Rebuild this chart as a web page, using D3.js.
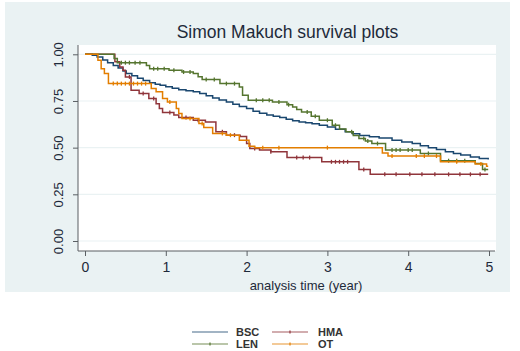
<!DOCTYPE html>
<html>
<head>
<meta charset="utf-8">
<script src="https://cdn.jsdelivr.net/npm/d3@7"></script>
<style>
  body { margin: 0; background: #fff; }
  svg { display: block; font-family: "Liberation Sans", Arial, sans-serif; }
</style>
</head>
<body>
<svg width="520" height="351"></svg>
<script>
// survival estimates: [time (years), survival]
const bsc = [[0,1],[0.09,0.995],[0.15,0.985],[0.22,0.97],[0.28,0.955],[0.35,0.94],[0.41,0.927],[0.47,0.91],
  [0.51,0.897],[0.58,0.885],[0.65,0.872],[0.72,0.86],[0.8,0.848],[0.87,0.84],[0.93,0.834],[1.0,0.826],
  [1.08,0.818],[1.16,0.81],[1.25,0.805],[1.34,0.8],[1.42,0.79],[1.5,0.778],[1.58,0.766],[1.66,0.755],
  [1.75,0.745],[1.83,0.733],[1.91,0.72],[2.0,0.71],[2.08,0.695],[2.16,0.684],[2.25,0.675],[2.33,0.668],
  [2.41,0.662],[2.49,0.652],[2.57,0.644],[2.65,0.638],[2.73,0.633],[2.81,0.628],[2.9,0.62],[3.0,0.61],
  [3.1,0.598],[3.22,0.585],[3.31,0.574],[3.4,0.565],[3.52,0.558],[3.64,0.552],[3.8,0.54],[3.92,0.53],
  [4.05,0.522],[4.15,0.51],[4.25,0.5],[4.35,0.49],[4.46,0.478],[4.56,0.468],[4.65,0.46],[4.77,0.45],
  [4.88,0.442],[4.99,0.436]];
const len = [[0,1],[0.36,0.977],[0.4,0.955],[0.76,0.94],[0.8,0.923],[1.04,0.914],[1.2,0.905],[1.34,0.897],
  [1.4,0.88],[1.45,0.865],[1.67,0.843],[1.91,0.825],[1.95,0.78],[2.02,0.754],[2.32,0.745],[2.5,0.73],
  [2.57,0.718],[2.62,0.705],[2.68,0.691],[2.8,0.668],[2.9,0.647],[3.06,0.62],[3.15,0.6],[3.23,0.585],
  [3.32,0.565],[3.39,0.549],[3.47,0.535],[3.55,0.522],[3.72,0.487],[4.15,0.469],[4.4,0.43],[4.83,0.415],
  [4.92,0.383],[4.99,0.383]];
const hma = [[0,1],[0.37,0.96],[0.43,0.932],[0.47,0.914],[0.5,0.879],[0.57,0.807],[0.67,0.79],[0.79,0.763],
  [0.88,0.735],[0.92,0.71],[0.96,0.688],[1.1,0.675],[1.16,0.661],[1.34,0.647],[1.49,0.638],[1.62,0.585],
  [1.75,0.567],[1.92,0.56],[2.0,0.522],[2.04,0.496],[2.16,0.487],[2.3,0.478],[2.5,0.447],[2.93,0.424],
  [3.39,0.383],[3.53,0.357],[4.99,0.357]];
const ot = [[0,1],[0.16,0.968],[0.2,0.923],[0.24,0.897],[0.29,0.843],[0.82,0.817],[0.88,0.8],[0.96,0.763],
  [1.02,0.745],[1.13,0.71],[1.16,0.683],[1.2,0.656],[1.41,0.63],[1.47,0.608],[1.58,0.576],[1.75,0.567],
  [1.91,0.54],[2.03,0.508],[2.1,0.5],[3.68,0.472],[3.75,0.455],[4.4,0.424],[4.83,0.412],[4.97,0.4],[4.99,0.4]];

// censoring times
const lenCens = [0.45,0.5,0.55,0.62,0.68,0.85,0.9,0.98,1.1,1.22,1.3,1.5,1.6,1.75,1.85,2.12,2.2,2.28,2.4,
  2.52,2.75,2.85,3.0,3.1,3.3,3.45,3.5,3.62,3.8,3.85,3.9,4.0,4.05,4.25,4.5,4.6,4.7,4.95];
const hmaCens = [0.55,0.72,0.85,1.05,1.25,1.4,1.7,1.85,2.1,2.3,2.62,2.7,2.78,3.05,3.1,3.15,3.2,3.25,3.45,
  3.71,3.85,4.02,4.17,4.33,4.5,4.64,4.77,4.89];
const otCens = [0.35,0.4,0.45,0.5,0.55,0.6,0.65,0.7,0.75,1.05,1.3,1.45,1.7,1.8,2.2,2.4,3.0,3.8,4.1,4.2,
  4.35,4.6,4.9];

const xTicks = [0, 1, 2, 3, 4, 5];
const yTicks = [0, 0.25, 0.5, 0.75, 1];

const series = [
  { name: "BSC", data: bsc, cens: [], color: "#1a476f" },
  { name: "HMA", data: hma, cens: hmaCens, color: "#90353b" },
  { name: "LEN", data: len, cens: lenCens, color: "#55752f" },
  { name: "OT", data: ot, cens: otCens, color: "#e37e00" }
];

const svg = d3.select("svg");

// graph region
svg.append("rect").attr("x", 5).attr("y", 2).attr("width", 505).attr("height", 290).attr("fill", "#eaf2f3");
svg.append("rect").attr("x", 78).attr("y", 45).attr("width", 418).attr("height", 206).attr("fill", "#fff");

const x = d3.scaleLinear().domain([0, 5]).range([85, 489]);
const y = d3.scaleLinear().domain([0, 1]).range([241, 54.3]);

// grid
svg.append("g").selectAll("line").data(yTicks).enter().append("line")
  .attr("x1", 78).attr("x2", 496)
  .attr("y1", d => y(d)).attr("y2", d => y(d))
  .attr("stroke", "#eaf2f3").attr("stroke-width", 1.2);

// axes
const xAxis = svg.append("g").attr("transform", "translate(0,251)")
  .call(d3.axisBottom(x).tickValues(xTicks).tickFormat(d3.format("d")).tickSize(5).tickSizeOuter(0));
xAxis.select(".domain").attr("d", "M78,0H495");
xAxis.selectAll("text").attr("y", 10).attr("dy", "0.75em").style("font-size", "14px").attr("fill", "#1e2a3a");

const yAxis = svg.append("g").attr("transform", "translate(78,0)")
  .call(d3.axisLeft(y).tickValues(yTicks).tickFormat(d3.format(".2f")).tickSize(5).tickSizeOuter(0));
yAxis.select(".domain").attr("d", "M0,45V251");
yAxis.selectAll(".tick text")
  .attr("x", 0).attr("dy", 0)
  .attr("transform", "translate(-15,0) rotate(-90)")
  .attr("text-anchor", "middle")
  .style("font-size", "13px").attr("fill", "#1e2a3a");
svg.selectAll(".domain, .tick line").attr("stroke", "#5a5f63");

// curves
const line = d3.line().x(d => x(d[0])).y(d => y(d[1])).curve(d3.curveStepAfter);
function survAt(data, t) {
  let s = 1;
  data.forEach(d => { if (d[0] <= t) s = d[1]; });
  return s;
}

series.forEach(s => {
  svg.append("path").datum(s.data).attr("d", line)
    .attr("fill", "none").attr("stroke", s.color).attr("stroke-width", 1.5);
  svg.append("g").selectAll("line").data(s.cens).enter().append("line")
    .attr("x1", d => x(d)).attr("x2", d => x(d))
    .attr("y1", d => y(survAt(s.data, d)) - 2).attr("y2", d => y(survAt(s.data, d)) + 2)
    .attr("stroke", s.color).attr("stroke-width", 1.3);
});

// title
svg.append("text").attr("x", 287.5).attr("y", 38).attr("text-anchor", "middle")
  .style("font-size", "17.5px").attr("fill", "#1e2a3a").text("Simon Makuch survival plots");

svg.append("text").attr("x", 306).attr("y", 290).attr("text-anchor", "middle")
  .style("font-size", "13px").attr("fill", "#1e2a3a").text("analysis time (year)");

// legend
const legendPos = { BSC: [192, 332], HMA: [272, 332], LEN: [192, 344], OT: [272, 344] };
series.forEach(s => {
  const p = legendPos[s.name];
  svg.append("line").attr("x1", p[0]).attr("x2", p[0] + 36).attr("y1", p[1]).attr("y2", p[1])
    .attr("stroke", s.color).attr("stroke-width", 1.2).attr("opacity", 0.8);
  if (s.cens.length) {
    svg.append("line").attr("x1", p[0] + 18).attr("x2", p[0] + 18).attr("y1", p[1] - 1.5).attr("y2", p[1] + 1.5)
      .attr("stroke", s.color).attr("stroke-width", 1.2);
  }
  svg.append("text").attr("x", p[0] + (s.name === "BSC" || s.name === "LEN" ? 44 : 46)).attr("y", p[1] + 4)
    .style("font-size", "11px").style("font-weight", "bold").attr("fill", "#333").text(s.name);
});
</script>
</body>
</html>
